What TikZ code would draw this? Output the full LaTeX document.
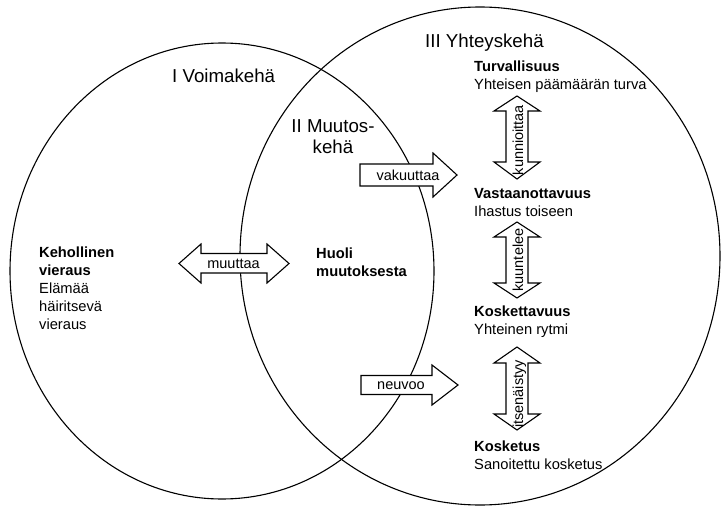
\documentclass[tikz,border=0pt]{standalone}
\usepackage{fontspec}
\setmainfont{Liberation Sans}
\begin{document}
\begin{tikzpicture}[x=1pt,y=-1pt,
  circ/.style={line width=1.1pt},
  blockarrow/.style={draw, line width=1.1pt, fill=white, line join=miter},
  body/.style={font=\fontsize{14.7}{17.8}\selectfont, inner sep=0pt, align=left, anchor=base west},
  title/.style={font=\fontsize{18.7}{21}\selectfont, inner sep=0pt},
  lbl/.style={font=\fontsize{14.5}{16}\selectfont, inner sep=0pt, anchor=base},
  vlbl/.style={lbl, rotate=90}
]
\useasboundingbox (0,0) rectangle (721,506);

% spheres
\draw[circ] (222,271) ellipse [x radius=212, y radius=228];
\draw[circ] (480,256) ellipse [x radius=240, y radius=249];

% titles (base = baseline of the last line)
\node[title, anchor=base west] (t1) at (172,82) {I Voimakehä};
\node[title, anchor=base, align=center] (t2) at (333,153) {II Muutos-\\kehä};
\node[title, anchor=base west] (t3) at (425,47) {III Yhteyskehä};

% text blocks (base = baseline of the last line)
\node[body] (keh) at (39,329) {\textbf{Kehollinen}\\\textbf{vieraus}\\Elämää\\häiritsevä\\vieraus};
\node[body] (huoli) at (316,276.5) {\textbf{Huoli}\\\textbf{muutoksesta}};
\node[body] (turv) at (474,89) {\textbf{Turvallisuus}\\Yhteisen päämäärän turva};
\node[body] (vast) at (474,216) {\textbf{Vastaanottavuus}\\Ihastus toiseen};
\node[body] (kosk) at (474,334.5) {\textbf{Koskettavuus}\\Yhteinen rytmi};
\node[body] (kosu) at (474,469.5) {\textbf{Kosketus}\\Sanoitettu kosketus};

% horizontal double arrow
\draw[blockarrow] (179,263.5) -- (201,244) -- (201,253.5) -- (267,253.5) -- (267,244)
  -- (289,263.5) -- (267,283) -- (267,273) -- (201,273) -- (201,283) -- cycle;
\node[lbl] (muuttaa) at (233.5,268.5) {muuttaa};

% single arrows
\draw[blockarrow] (360,164) -- (433,164) -- (433,153) -- (457,175) -- (433,197)
  -- (433,186) -- (360,186) -- cycle;
\node[lbl] (vak) at (408,180) {vakuuttaa};

\draw[blockarrow] (361,375.5) -- (432,375.5) -- (432,365) -- (458,385) -- (432,405)
  -- (432,394.5) -- (361,394.5) -- cycle;
\node[lbl] (neu) at (401,389.5) {neuvoo};

% vertical double arrows
\foreach \top/\hb/\bb/\bot in {96/111/162/179, 222/237/283/298, 347/363/414/430}{
  \draw[blockarrow] (517,\top) -- (540,\hb) -- (528,\hb) -- (528,\bb) -- (540,\bb)
    -- (517,\bot) -- (494,\bb) -- (506,\bb) -- (506,\hb) -- (494,\hb) -- cycle;
}
\node[vlbl] (kun) at (523,140) {kunnioittaa};
\node[vlbl] (kuu) at (523,260) {kuuntelee};
\node[vlbl] (its) at (523,394) {itsenäistyy};
\end{tikzpicture}
\end{document}
